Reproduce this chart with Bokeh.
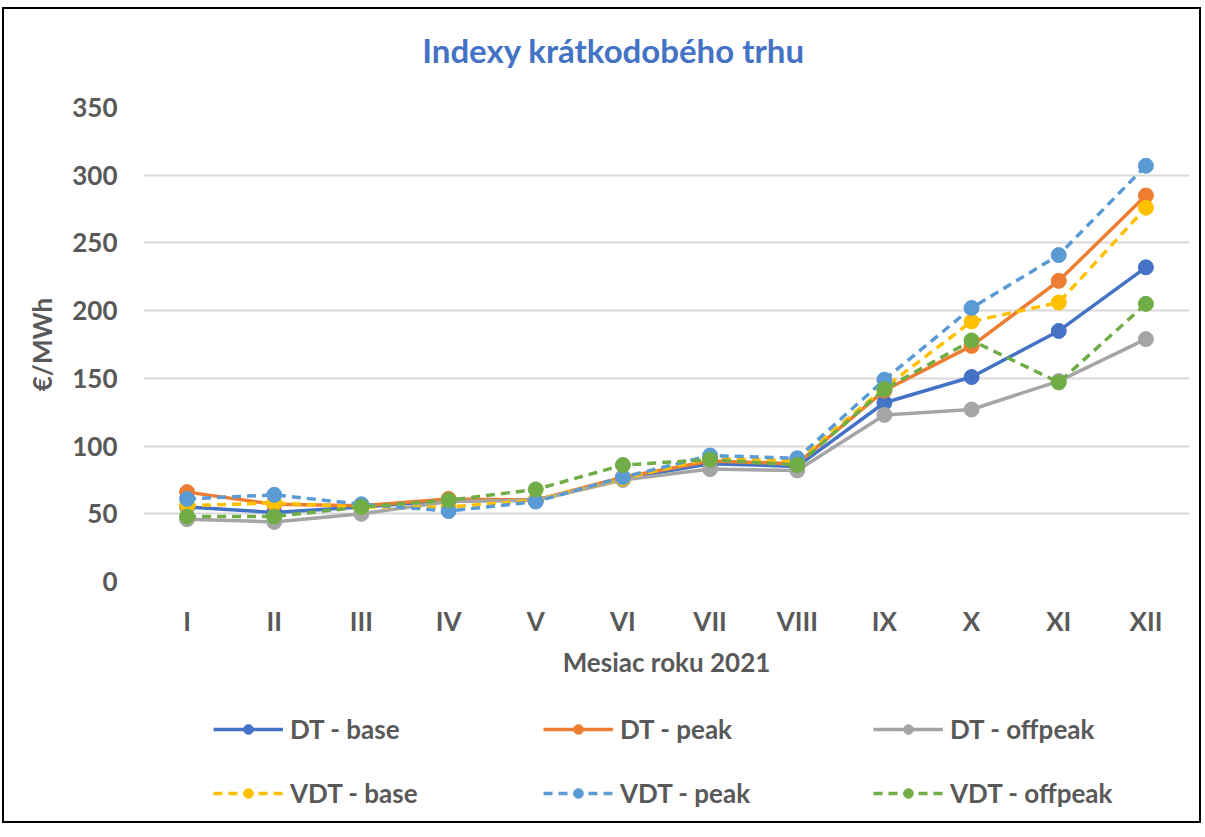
from bokeh.plotting import figure
from bokeh.models import Legend, LegendItem, Label, Range1d
from bokeh.layouts import column
from bokeh.embed import file_html
from bokeh.resources import INLINE

months = ["I", "II", "III", "IV", "V", "VI", "VII", "VIII", "IX", "X", "XI", "XII"]
dt_base = [55, 51, 55, 60, 60, 76, 87, 85, 132, 151, 185, 232]
dt_peak = [66, 57, 56, 61, 60, 77, 89, 87, 141, 174, 222, 285]
dt_offpeak = [46, 44, 50, 59, 60, 75, 83, 82, 123, 127, 148, 179]
vdt_base = [56, 58, 55, 55, 60, 76, 91, 89, 143, 192, 206, 276]
vdt_peak = [61, 64, 57, 52, 59, 77, 93, 91, 149, 202, 241, 307]
vdt_offpeak = [48, 48, 55, 60, 68, 86, 90, 86, 142, 178, 147, 205]
y_ticks = [0, 50, 100, 150, 200, 250, 300, 350]

series = [
    ("DT - base", dt_base, "#4472C4", "solid"),
    ("DT - peak", dt_peak, "#ED7D31", "solid"),
    ("DT - offpeak", dt_offpeak, "#A5A5A5", "solid"),
    ("VDT - base", vdt_base, "#FFC000", "9 6"),
    ("VDT - peak", vdt_peak, "#5B9BD5", "9 6"),
    ("VDT - offpeak", vdt_offpeak, "#70AD47", "9 6"),
]

FONT = "Lato"
GREY = "#595959"
W = 1195

# --- title strip ---
p0 = figure(width=W, height=78, x_range=Range1d(0, W), y_range=Range1d(0, 78),
            min_border=0, x_axis_location=None, y_axis_location=None,
            output_backend="svg", toolbar_location=None)
p0.grid.visible = False
p0.outline_line_color = None
p0.add_layout(Label(x=537, y=38, text="Indexy krátkodobého trhu",
                    text_align="center", text_baseline="middle",
                    text_font=FONT, text_font_size="33px", text_font_style="bold",
                    text_color="#4472C4"))

# --- main chart ---
p = figure(x_range=months, y_range=(0, 350), frame_width=1046, frame_height=474,
           output_backend="svg", toolbar_location=None,
           min_border_left=139, min_border_right=10, min_border_top=20, min_border_bottom=115)
p.outline_line_color = None
p.xgrid.grid_line_color = None
p.ygrid.grid_line_color = "#D9D9D9"
p.ygrid.grid_line_width = 2
p.yaxis.ticker = y_ticks

for ax in (p.xaxis, p.yaxis):
    ax.axis_line_color = None
    ax.major_tick_line_color = None
    ax.minor_tick_line_color = None
    ax.major_label_text_font = FONT
    ax.major_label_text_font_size = "26px"
    ax.major_label_text_font_style = "bold"
    ax.major_label_text_color = GREY
    ax.axis_label_text_font = FONT
    ax.axis_label_text_font_size = "26px"
    ax.axis_label_text_font_style = "bold"
    ax.axis_label_text_color = GREY

p.yaxis.axis_label = "€/MWh"
p.yaxis.major_label_standoff = 20
p.yaxis.axis_label_standoff = 11
p.xaxis.axis_label = "Mesiac roku 2021"
p.xaxis.major_label_standoff = 17
p.xaxis.axis_label_standoff = 6

for name, vals, color, dash in series:
    p.line(months, vals, line_color=color, line_width=3.5, line_dash=dash)
    p.scatter(months, vals, size=15, fill_color=color, line_color=color)

# --- legend strip ---
p2 = figure(width=W, height=125, x_range=months, y_range=Range1d(1000, 1001),
            min_border=0, x_axis_location=None, y_axis_location=None,
            output_backend="svg", toolbar_location=None)
p2.grid.visible = False
p2.outline_line_color = None
items = []
for name, vals, color, dash in series:
    r1 = p2.line(months, vals, line_color=color, line_width=3.5, line_dash=dash)
    r2 = p2.scatter(months, vals, size=15, fill_color=color, line_color=color)
    items.append(LegendItem(label=name, renderers=[r1, r2]))

legend = Legend(items=items, ncols=3, location=(70, 12), orientation="horizontal",
                glyph_width=70, glyph_height=24, label_height=24, label_width=221,
                label_standoff=7, spacing=32, padding=0, margin=0,
                border_line_color=None, background_fill_alpha=0,
                label_text_font=FONT, label_text_font_size="26px",
                label_text_font_style="bold", label_text_color=GREY)
p2.add_layout(legend, "center")

layout = column(p0, p, p2, spacing=0)
layout.styles = {"border": "2px solid black", "margin-top": "7px", "margin-left": "2px"}

open("out.html", "w").write(file_html(layout, INLINE))
